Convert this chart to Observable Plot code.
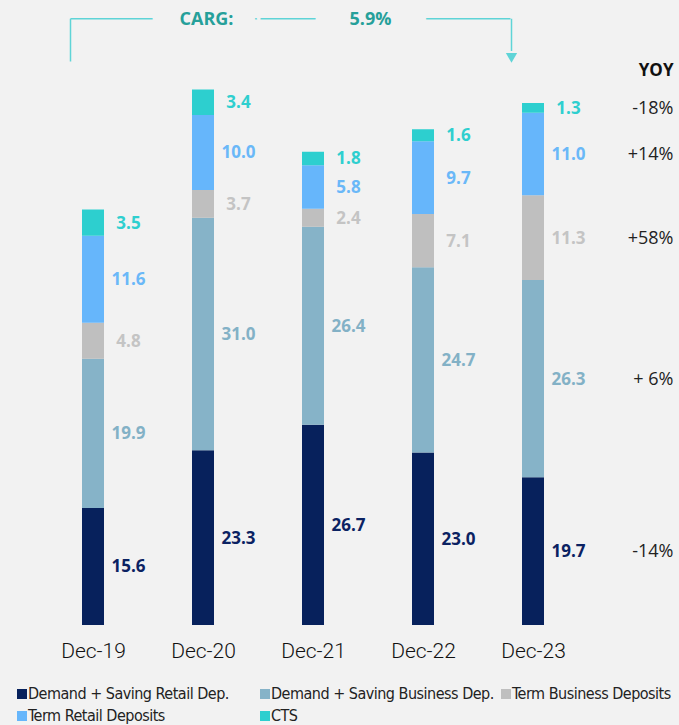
<!DOCTYPE html>
<html>
<head>
<meta charset="utf-8">
<script src="https://cdn.jsdelivr.net/npm/d3@7"></script>
<script src="https://cdn.jsdelivr.net/npm/@observablehq/plot@0.6"></script>
<style>
  html, body { margin: 0; padding: 0; background: #f2f2f2; }
  #chart { width: 679px; }
  .legend { display: grid; grid-template-columns: 243px 241px 178px; margin-left: 17px; margin-top: 11px;
    font-family: "Liberation Sans Narrow", "DejaVu Sans Condensed", "Roboto", sans-serif; font-size: 16px; letter-spacing: -0.5px; color: #222; row-gap: 1px; }
  .legend .item { display: flex; align-items: center; white-space: nowrap; height: 21px; }
  .legend .sw { width: 10px; height: 10px; margin-right: 1px; flex: none; }
</style>
</head>
<body>
<div id="chart"></div>
<script>
const categories = ["Dec-19", "Dec-20", "Dec-21", "Dec-22", "Dec-23"];
const series = ["Demand + Saving Retail Dep.", "Demand + Saving Business Dep.", "Term Business Deposits", "Term Retail Deposits", "CTS"];
const demandRetail   = [15.6, 23.3, 26.7, 23.0, 19.7];
const demandBusiness = [19.9, 31.0, 26.4, 24.7, 26.3];
const termBusiness   = [4.8, 3.7, 2.4, 7.1, 11.3];
const termRetail     = [11.6, 10.0, 5.8, 9.7, 11.0];
const cts            = [3.5, 3.4, 1.8, 1.6, 1.3];
const yoyLabels = ["-14%", "+ 6%", "+58%", "+14%", "-18%"]; // same order as series
const yoyTitle = "YOY";
const cagrTitle = "CARG:";
const cagrValue = "5.9%";

const barColors   = ["#07215c", "#86b3c8", "#bfbfbf", "#66b6fb", "#2dcfcf"];
const labelColors = ["#0b2262", "#83b1c6", "#c4c4c4", "#6ab8f8", "#2fcfcf"];
const seriesValues = [demandRetail, demandBusiness, termBusiness, termRetail, cts];

const rows = [];
categories.forEach((cat, i) => {
  let base = 0;
  series.forEach((s, j) => {
    const v = seriesValues[j][i];
    rows.push({cat, series: s, si: j, value: v, y1: base, y2: base + v, mid: base + v / 2});
    base += v;
  });
});
const lastRows = rows.filter(d => d.cat === categories[categories.length - 1]);

const teal = "#5fd4d7";
const tealText = "#26a09a";
const bg = "#f2f2f2";
const H = 672;

const plot = Plot.plot({
  width: 679,
  height: H,
  marginLeft: 37,
  marginRight: 90,
  marginTop: 25,
  marginBottom: H - 625,
  style: {background: bg, fontFamily: "Roboto, sans-serif", overflow: "visible"},
  x: {domain: categories, padding: 0, label: null},
  y: {domain: [0, 80], axis: null},
  color: {domain: series, range: barColors},
  marks: [
    Plot.barY(rows, {x: "cat", y1: "y1", y2: "y2", fill: "series", insetLeft: 44, insetRight: 44}),
    Plot.text(rows, {x: "cat", y: "mid", text: d => d.value.toFixed(1), fill: d => labelColors[d.si],
      dx: 35, fontWeight: 700, fontSize: 17, fontFamily: "Open Sans, sans-serif"}),
    Plot.text(lastRows, {x: "cat", y: "mid", text: d => yoyLabels[d.si], dx: 140, textAnchor: "end",
      fontSize: 18, fill: "#222", fontFamily: "Open Sans, sans-serif"}),
    Plot.text([yoyTitle], {x: () => categories[4], y: () => 74, text: d => d, dx: 140, textAnchor: "end",
      fontSize: 17, fontWeight: 700, fill: "#111", fontFamily: "Open Sans, sans-serif"}),
    // CAGR annotation
    Plot.link([0], {x1: () => categories[0], x2: () => categories[4], y1: () => 80.9, y2: () => 80.9, dx: -23, stroke: teal, strokeWidth: 1.5}),
    Plot.link([0], {x1: () => categories[0], x2: () => categories[0], y1: () => 80.9, y2: () => 75.2, dx: -23, stroke: teal, strokeWidth: 1.5}),
    Plot.link([0], {x1: () => categories[4], x2: () => categories[4], y1: () => 80.9, y2: () => 76.6, dx: -22, stroke: teal, strokeWidth: 1.5}),
    Plot.dot([0], {x: () => categories[4], y: () => 75.9, symbol: "triangle", rotate: 180, r: 4.2, fill: teal, dx: -22}),
    Plot.text([cagrTitle], {x: () => categories[1], y: () => 80.9, text: d => d, dx: 3, fontSize: 18, fontWeight: 700,
      fill: tealText, stroke: bg, strokeWidth: 56, paintOrder: "stroke", fontFamily: "Open Sans, sans-serif"}),
    Plot.text([cagrValue], {x: () => categories[2], y: () => 80.9, text: d => d, dx: 57, fontSize: 18, fontWeight: 700,
      fill: tealText, stroke: bg, strokeWidth: 70, paintOrder: "stroke", fontFamily: "Open Sans, sans-serif"}),
    Plot.axisX({tickSize: 0, tickPadding: 18, fontSize: 21, fontWeight: 300, label: null, fill: "#111"})
  ]
});
document.getElementById("chart").appendChild(plot);

const legend = document.createElement("div");
legend.className = "legend";
const legendOrder = [0, 1, 2, 3, 4];
legendOrder.forEach(j => {
  const it = document.createElement("div");
  it.className = "item";
  const sw = document.createElement("span");
  sw.className = "sw";
  sw.style.background = barColors[j];
  const tx = document.createElement("span");
  tx.textContent = series[j];
  it.appendChild(sw); it.appendChild(tx);
  legend.appendChild(it);
});
document.getElementById("chart").appendChild(legend);
</script>
</body>
</html>
